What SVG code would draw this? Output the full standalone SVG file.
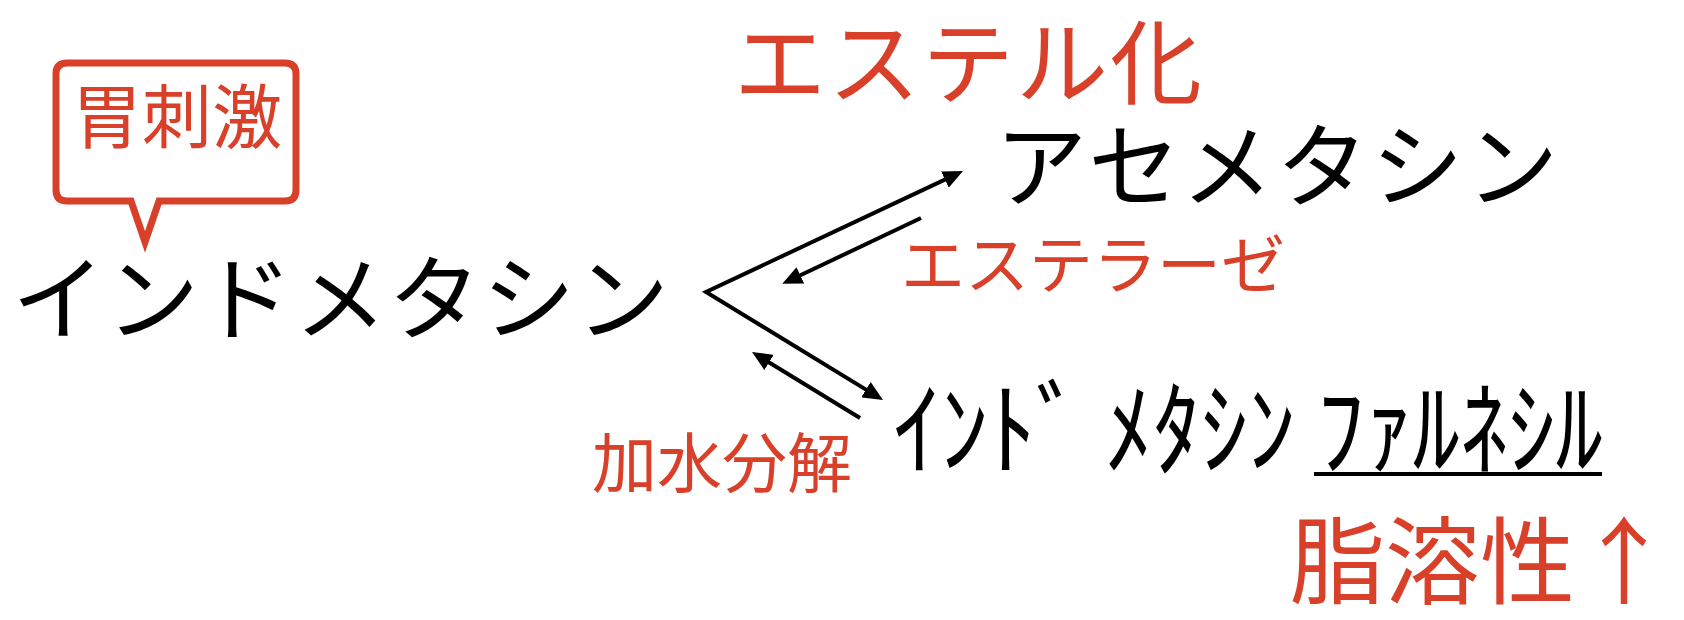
<svg xmlns="http://www.w3.org/2000/svg" width="1684" height="620" viewBox="0 0 1684 620">
<style>
text{font-family:"Noto Sans CJK JP","Noto Sans CJK SC",sans-serif;}
.k{fill:#000;}
.r{fill:#d9402a;}
.c{fill:none;stroke:#000;stroke-width:4;}
</style>
<defs>
<marker id="ah" viewBox="0 0 20 18" markerUnits="userSpaceOnUse" markerWidth="20" markerHeight="18" refX="14" refY="9" orient="auto">
<path d="M0,0 L20,9 L0,18 z" fill="#000"/>
</marker>
<marker id="ahs" viewBox="0 0 20 18" markerUnits="userSpaceOnUse" markerWidth="20" markerHeight="18" refX="14" refY="9" orient="auto-start-reverse">
<path d="M0,0 L20,9 L0,18 z" fill="#000"/>
</marker>
</defs>
<rect width="1684" height="620" fill="#fff"/>
<g id="callout">
<path d="M67,63 H285 Q296,63 296,74 V190 Q296,201 285,201 H159 L145,242 L131,201 H67 Q56,201 56,190 V74 Q56,63 67,63 Z" fill="#fff" stroke="#d9402a" stroke-width="7" stroke-linejoin="miter"/>
<text class="r" x="72" y="143" font-size="70">胃刺激</text>
</g>
<g id="indomethacin">
<text class="k" x="12" y="333" font-size="93" letter-spacing="1">インドメタシン</text>
</g>
<g id="acemetacin">
<text class="k" x="995" y="200" font-size="92" letter-spacing="3">アセメタシン</text>
</g>
<g id="esterification">
<text class="r" x="734" y="97" font-size="92" letter-spacing="2">エステル化</text>
</g>
<g id="esterase">
<text class="r" x="901" y="288" font-size="64">エステラーゼ</text>
</g>
<g id="hydrolysis">
<text class="r" x="592" y="487" font-size="65">加水分解</text>
</g>
<g id="farnesil">
<text class="k" x="893" y="467" font-size="103" textLength="710" lengthAdjust="spacingAndGlyphs">ｲﾝﾄﾞ ﾒﾀｼﾝ ﾌｧﾙﾈｼﾙ</text>
<line x1="1314" y1="474" x2="1602" y2="474" stroke="#000" stroke-width="4"/>
</g>
<g id="lipophilicity">
<text class="r" x="1290" y="597" font-size="95">脂溶性<tspan x="1624" text-anchor="middle">↑</tspan></text>
</g>
<g id="connectors">
<polyline class="c" points="957.6,173.6 706,292 877.9,396.9" marker-end="url(#ah)" marker-start="url(#ahs)"/>
<path class="c" d="M921,218 L787.7,281.3" marker-end="url(#ah)"/>
<path class="c" d="M860,418 L757.1,355.1" marker-end="url(#ah)"/>
</g>
</svg>
